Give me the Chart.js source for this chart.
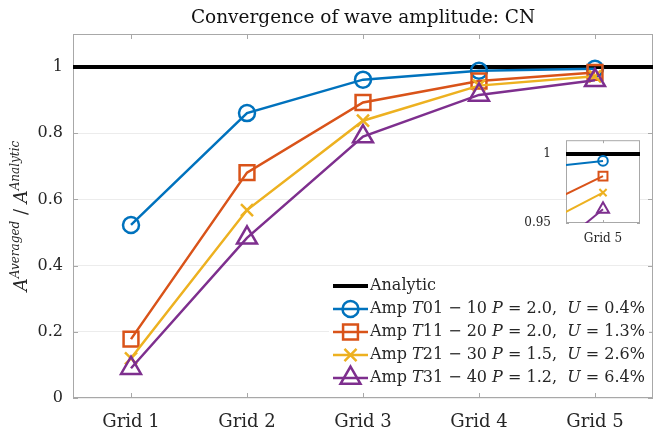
<!DOCTYPE html>
<html>
<head>
<meta charset="utf-8">
<script src="https://cdn.jsdelivr.net/npm/chart.js@4.4.1/dist/chart.umd.min.js"></script>
<style>
  html, body { margin: 0; padding: 0; background: #fff; }
  #wrap { position: relative; width: 657px; height: 432px; overflow: hidden; }
  #main { position: absolute; left: 0; top: 0; }
  #inset { position: absolute; left: 520px; top: 126px; }
</style>
</head>
<body>
<div id="wrap">
  <canvas id="main" width="667" height="432"></canvas>
  <canvas id="inset" width="137" height="117"></canvas>
</div>
<script>
const gridLabels = ['Grid 1', 'Grid 2', 'Grid 3', 'Grid 4', 'Grid 5'];
const gridPos = [1, 2, 3, 4, 5];
const yTicks = [0, 0.2, 0.4, 0.6, 0.8, 1];
const insetTicks = [0.95, 1];
const analytic = 1;

// averaged / analytic amplitude per grid
const ampT01 = [0.523, 0.861, 0.962, 0.989, 0.995];
const ampT11 = [0.178, 0.681, 0.893, 0.958, 0.984];
const ampT21 = [0.120, 0.568, 0.838, 0.944, 0.972];
const ampT31 = [0.090, 0.484, 0.790, 0.916, 0.960];

const seriesRange = ['01 − 10', '11 − 20', '21 − 30', '31 − 40'];
const orderP = ['2.0', '2.0', '1.5', '1.2'];
const errU = ['0.4', '1.3', '2.6', '6.4'];

const SERIF = '"DejaVu Serif", serif';
const TEXT = '#262626';
const colors = ['#0072BD', '#D95319', '#EDB120', '#7E2F8E'];
const markers = ['circle', 'rect', 'crossRot', 'triangle'];
const markerSize = [8, 10.5, 8.5, 11.5];
const amps = [ampT01, ampT11, ampT21, ampT31];

function buildDatasets(k, lw) {
  const sets = [{
    label: 'Analytic',
    data: [{ x: 0.5, y: analytic }, { x: 5.5, y: analytic }],
    borderColor: '#000',
    borderWidth: 4,
    pointRadius: 0,
    order: 4,
  }];
  amps.forEach((vals, i) => {
    sets.push({
      label: 'Amp T' + seriesRange[i],
      data: vals.map((v, j) => ({ x: gridPos[j], y: v })),
      borderColor: colors[i],
      backgroundColor: 'transparent',
      borderWidth: lw,
      pointStyle: markers[i],
      pointRadius: markerSize[i] * k,
      pointHoverRadius: markerSize[i] * k,
      pointBorderWidth: lw,
      pointBackgroundColor: 'rgba(0,0,0,0)',
      pointBorderColor: colors[i],
      order: 3 - i,
    });
  });
  return sets;
}

// box around the axes with small inward ticks
const frame = {
  id: 'frame',
  beforeDraw(chart, args, opts) {
    const { ctx, chartArea: a } = chart;
    if (opts.fill) {
      ctx.save();
      ctx.fillStyle = '#fff';
      ctx.fillRect(a.left, a.top, a.width, a.height);
      ctx.restore();
    }
  },
  beforeDatasetsDraw(chart, args, opts) {
    const { ctx, chartArea: a, scales } = chart;
    const t = opts.tick;
    ctx.save();
    ctx.strokeStyle = opts.color;
    ctx.lineWidth = 1;
    ctx.strokeRect(a.left + 0.5, a.top + 0.5, a.width - 1, a.height - 1);
    ctx.beginPath();
    scales.x.ticks.forEach((tk) => {
      const px = Math.round(scales.x.getPixelForValue(tk.value)) + 0.5;
      ctx.moveTo(px, a.bottom); ctx.lineTo(px, a.bottom - t);
      ctx.moveTo(px, a.top); ctx.lineTo(px, a.top + t);
    });
    scales.y.ticks.forEach((tk) => {
      const py = Math.round(scales.y.getPixelForValue(tk.value)) + 0.5;
      ctx.moveTo(a.left, py); ctx.lineTo(a.left + t, py);
      ctx.moveTo(a.right, py); ctx.lineTo(a.right - t, py);
    });
    ctx.stroke();
    ctx.restore();
  },
};

function drawRuns(ctx, runs, x, y) {
  runs.forEach((r) => {
    ctx.font = r.f;
    ctx.fillText(r.t, x, y + (r.dy || 0));
    x += ctx.measureText(r.t).width;
  });
}

function runsWidth(ctx, runs) {
  return runs.reduce((w, r) => { ctx.font = r.f; return w + ctx.measureText(r.t).width; }, 0);
}

const annotations = {
  id: 'annotations',
  afterDraw(chart) {
    const { ctx, chartArea: a } = chart;
    ctx.save();

    // title
    ctx.fillStyle = '#111';
    ctx.font = '18.5px ' + SERIF;
    ctx.textAlign = 'center';
    ctx.textBaseline = 'middle';
    ctx.fillText('Convergence of wave amplitude: CN', (a.left + a.right) / 2, 18);

    // y axis title, rotated
    const it = 'italic 18px ' + SERIF;
    const sup = 'italic 12px ' + SERIF;
    const yRuns = [
      { t: 'A', f: it }, { t: 'Averaged', f: sup, dy: -8 },
      { t: ' / ', f: '18px ' + SERIF },
      { t: 'A', f: it }, { t: 'Analytic', f: sup, dy: -8 },
    ];
    ctx.save();
    ctx.translate(27, (a.top + a.bottom) / 2);
    ctx.rotate(-Math.PI / 2);
    ctx.textAlign = 'left';
    ctx.textBaseline = 'alphabetic';
    ctx.fillStyle = TEXT;
    drawRuns(ctx, yRuns, -runsWidth(ctx, yRuns) / 2, 0);
    ctx.restore();

    // legend
    const lx0 = 333, lx1 = 368, tx = 370;
    const rows = [286, 309, 332, 355, 378];
    ctx.fillStyle = '#fff';
    ctx.fillRect(329, 273, 320, 117);
    ctx.textAlign = 'left';
    ctx.textBaseline = 'middle';

    ctx.strokeStyle = '#000';
    ctx.lineWidth = 4;
    ctx.beginPath(); ctx.moveTo(lx0, rows[0]); ctx.lineTo(lx1, rows[0]); ctx.stroke();
    ctx.fillStyle = TEXT;
    ctx.font = '16px ' + SERIF;
    ctx.fillText('Analytic', tx, rows[0]);

    const f = '16px ' + SERIF, fi = 'italic 16px ' + SERIF;
    amps.forEach((vals, i) => {
      const y = rows[i + 1];
      ctx.strokeStyle = colors[i];
      ctx.fillStyle = 'rgba(0,0,0,0)';
      ctx.lineWidth = 2.5;
      ctx.beginPath(); ctx.moveTo(lx0, y); ctx.lineTo(lx1, y); ctx.stroke();
      Chart.helpers.drawPoint(ctx, {
        pointStyle: markers[i], radius: markerSize[i], rotation: 0, borderWidth: 2.5,
      }, (lx0 + lx1) / 2, y);
      ctx.fillStyle = TEXT;
      drawRuns(ctx, [
        { t: 'Amp ', f: f }, { t: 'T', f: fi }, { t: seriesRange[i] + ' ', f: f },
        { t: 'P', f: fi }, { t: ' = ' + orderP[i] + ',  ', f: f },
        { t: 'U', f: fi }, { t: ' = ' + errU[i] + '%', f: f },
      ], tx, y);
    });

    ctx.restore();
  },
};

new Chart(document.getElementById('main'), {
  type: 'line',
  data: { datasets: buildDatasets(1, 2.5) },
  options: {
    responsive: false,
    animation: false,
    devicePixelRatio: 1,
    layout: { padding: { top: 34, right: 5, left: 0, bottom: 0 } },
    plugins: {
      legend: { display: false },
      tooltip: { enabled: false },
      frame: { color: '#a8a8a8', tick: 5 },
    },
    scales: {
      x: {
        type: 'linear',
        min: 0.5,
        max: 5.5,
        afterBuildTicks: (s) => { s.ticks = gridPos.map((v) => ({ value: v })); },
        afterFit: (s) => { s.height = 34; },
        grid: { display: false },
        border: { display: false },
        ticks: {
          callback: (v) => gridLabels[gridPos.indexOf(v)],
          font: { family: SERIF, size: 18 },
          color: TEXT,
          padding: 6,
          maxRotation: 0,
        },
      },
      y: {
        min: 0,
        max: 1.1,
        afterBuildTicks: (s) => { s.ticks = yTicks.map((v) => ({ value: v })); },
        afterFit: (s) => { s.width = 73; },
        grid: { color: '#ececec', drawTicks: false },
        border: { display: false },
        ticks: {
          callback: (v) => (v === 0 || v === 1 ? String(v) : v.toFixed(1)),
          font: { family: SERIF, size: 16 },
          color: TEXT,
          padding: 10,
        },
      },
    },
  },
  plugins: [frame, annotations],
});

// zoom on the finest grid
new Chart(document.getElementById('inset'), {
  type: 'line',
  data: { datasets: buildDatasets(0.6, 2) },
  options: {
    responsive: false,
    animation: false,
    devicePixelRatio: 1,
    layout: { padding: { top: 10, right: 17, left: 0, bottom: 0 } },
    plugins: {
      legend: { display: false },
      tooltip: { enabled: false },
      frame: { color: '#a8a8a8', tick: 3, fill: true },
    },
    scales: {
      x: {
        type: 'linear',
        min: 4.5,
        max: 5.5,
        afterBuildTicks: (s) => { s.ticks = [{ value: 5 }]; },
        afterFit: (s) => { s.height = 20; },
        grid: { display: false },
        border: { display: false },
        ticks: {
          callback: (v) => gridLabels[gridPos.indexOf(v)],
          font: { family: SERIF, size: 12 },
          color: TEXT,
          padding: 1,
          maxRotation: 0,
        },
      },
      y: {
        min: 0.95,
        max: 1.01,
        afterBuildTicks: (s) => { s.ticks = insetTicks.map((v) => ({ value: v })); },
        afterFit: (s) => { s.width = 46; },
        grid: { display: false },
        border: { display: false },
        ticks: {
          callback: (v) => (v === 1 ? '1' : v.toFixed(2)),
          font: { family: SERIF, size: 12 },
          color: TEXT,
          padding: 7,
        },
      },
    },
  },
  plugins: [frame],
});
</script>
</body>
</html>
